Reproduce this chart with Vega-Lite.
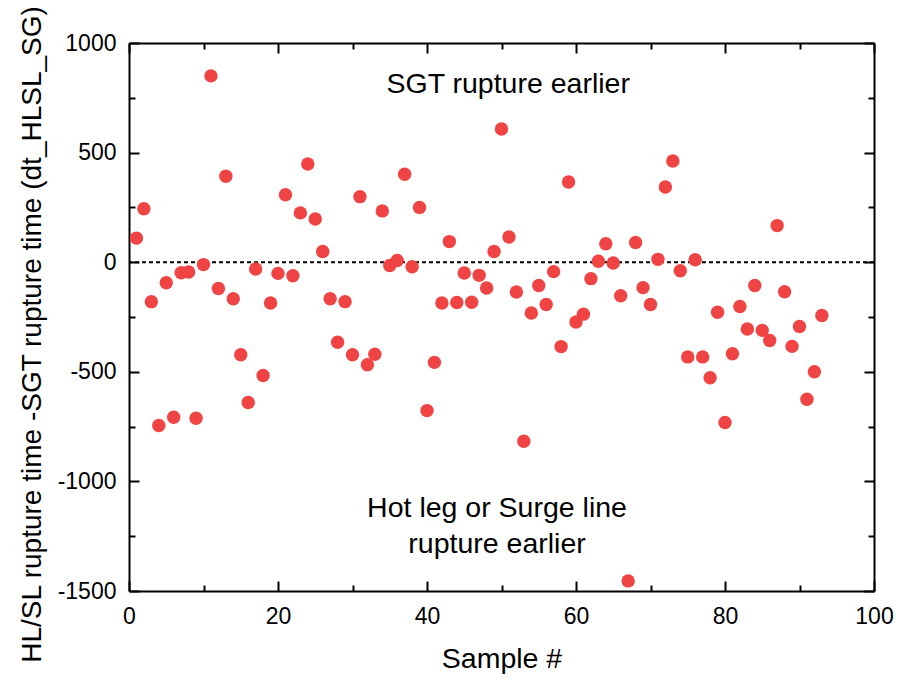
{
  "$schema": "https://vega.github.io/schema/vega-lite/v6.json",
  "autosize": {"type": "none"},
  "padding": {"left": 129, "top": 43, "right": 28, "bottom": 107},
  "width": 745,
  "height": 548,
  "background": "white",
  "config": {
    "view": {"stroke": null},
    "axis": {
      "domainColor": "black", "domainWidth": 2,
      "tickColor": "black", "tickWidth": 2,
      "labelFont": "Liberation Sans", "labelFontSize": 23, "labelColor": "black",
      "titleFont": "Liberation Sans", "titleFontSize": 28.5, "titleFontWeight": "normal", "titleColor": "black",
      "grid": false, "labelFlush": false, "labelOverlap": false
    }
  },
  "data": {"values": [
    {"sample":1,"dt":110},{"sample":2,"dt":244},{"sample":3,"dt":-180},{"sample":4,"dt":-745},{"sample":5,"dt":-94},
    {"sample":6,"dt":-707},{"sample":7,"dt":-48},{"sample":8,"dt":-45},{"sample":9,"dt":-712},{"sample":10,"dt":-11},
    {"sample":11,"dt":850},{"sample":12,"dt":-120},{"sample":13,"dt":392},{"sample":14,"dt":-167},{"sample":15,"dt":-422},
    {"sample":16,"dt":-640},{"sample":17,"dt":-31},{"sample":18,"dt":-517},{"sample":19,"dt":-186},{"sample":20,"dt":-51},
    {"sample":21,"dt":308},{"sample":22,"dt":-62},{"sample":23,"dt":225},{"sample":24,"dt":448},{"sample":25,"dt":197},
    {"sample":26,"dt":49},{"sample":27,"dt":-167},{"sample":28,"dt":-365},{"sample":29,"dt":-180},{"sample":30,"dt":-422},
    {"sample":31,"dt":299},{"sample":32,"dt":-468},{"sample":33,"dt":-420},{"sample":34,"dt":234},{"sample":35,"dt":-15},
    {"sample":36,"dt":8},{"sample":37,"dt":401},{"sample":38,"dt":-21},{"sample":39,"dt":250},{"sample":40,"dt":-677},
    {"sample":41,"dt":-457},{"sample":42,"dt":-186},{"sample":43,"dt":94},{"sample":44,"dt":-184},{"sample":45,"dt":-49},
    {"sample":46,"dt":-183},{"sample":47,"dt":-60},{"sample":48,"dt":-118},{"sample":49,"dt":49},{"sample":50,"dt":608},
    {"sample":51,"dt":115},{"sample":52,"dt":-136},{"sample":53,"dt":-817},{"sample":54,"dt":-232},{"sample":55,"dt":-106},
    {"sample":56,"dt":-193},{"sample":57,"dt":-43},{"sample":58,"dt":-385},{"sample":59,"dt":366},{"sample":60,"dt":-273},
    {"sample":61,"dt":-237},{"sample":62,"dt":-75},{"sample":63,"dt":4},{"sample":64,"dt":84},{"sample":65,"dt":-4},
    {"sample":66,"dt":-153},{"sample":67,"dt":-1454},{"sample":68,"dt":90},{"sample":69,"dt":-116},{"sample":70,"dt":-193},
    {"sample":71,"dt":13},{"sample":72,"dt":343},{"sample":73,"dt":462},{"sample":74,"dt":-39},{"sample":75,"dt":-432},
    {"sample":76,"dt":11},{"sample":77,"dt":-432},{"sample":78,"dt":-527},{"sample":79,"dt":-228},{"sample":80,"dt":-731},
    {"sample":81,"dt":-418},{"sample":82,"dt":-202},{"sample":83,"dt":-305},{"sample":84,"dt":-106},{"sample":85,"dt":-311},
    {"sample":86,"dt":-357},{"sample":87,"dt":167},{"sample":88,"dt":-135},{"sample":89,"dt":-384},{"sample":90,"dt":-293},
    {"sample":91,"dt":-625},{"sample":92,"dt":-500},{"sample":93,"dt":-243}
  ]},
  "resolve": {"axis": {"x": "independent", "y": "independent"}},
  "layer": [
    {
      "data": {"values": [{"v": 0}]},
      "mark": {"type": "rule", "strokeDash": [4, 3], "strokeWidth": 2, "color": "black"},
      "encoding": {
        "y": {"field": "v", "type": "quantitative", "scale": {"domain": [-1500, 1000], "nice": false, "zero": false}, "axis": null}
      }
    },
    {
      "mark": {"type": "circle", "size": 180, "color": "#F04343", "opacity": 1},
      "encoding": {
        "x": {
          "field": "sample", "type": "quantitative",
          "scale": {"domain": [0, 100], "nice": false, "zero": false},
          "axis": {
            "orient": "bottom",
            "values": [0,10,20,30,40,50,60,70,80,90,100],
            "labelExpr": "datum.value % 20 === 0 ? '' + datum.value : ''",
            "tickSize": {"condition": {"test": "datum.value % 20 === 0", "value": -10}, "value": -6},
            "labelPadding": 24,
            "title": "Sample #",
            "titleX": 372.5, "titleY": 76, "titleAlign": "center", "titleBaseline": "alphabetic"
          }
        },
        "y": {
          "field": "dt", "type": "quantitative",
          "scale": {"domain": [-1500, 1000], "nice": false, "zero": false},
          "axis": {
            "orient": "left",
            "values": [-1500,-1250,-1000,-750,-500,-250,0,250,500,750,1000],
            "labelExpr": "datum.value % 500 === 0 ? '' + datum.value : ''",
            "tickSize": {"condition": {"test": "datum.value % 500 === 0", "value": -10}, "value": -6},
            "labelPadding": 23,
            "title": "HL/SL rupture time -SGT rupture time (dt_HLSL_SG)",
            "titleFontSize": 28,
            "titleAngle": -90, "titleX": -89, "titleY": 291, "titleAlign": "center", "titleBaseline": "alphabetic"
          }
        }
      }
    },
    {
      "data": {"values": [{"label": "SGT rupture earlier", "px": 50.9, "py": 774}]},
      "mark": {"type": "text", "font": "Liberation Sans", "fontSize": 28.5, "align": "center", "baseline": "alphabetic", "color": "black"},
      "encoding": {
        "text": {"field": "label"},
        "x": {
          "field": "px", "type": "quantitative",
          "axis": {
            "orient": "top", "labels": false, "title": null,
            "values": [0,10,20,30,40,50,60,70,80,90,100],
            "tickSize": {"condition": {"test": "datum.value % 20 === 0", "value": -10}, "value": -6}
          }
        },
        "y": {
          "field": "py", "type": "quantitative",
          "axis": {
            "orient": "right", "labels": false, "title": null,
            "values": [-1500,-1250,-1000,-750,-500,-250,0,250,500,750,1000],
            "tickSize": {"condition": {"test": "datum.value % 500 === 0", "value": -10}, "value": -6}
          }
        }
      }
    },
    {
      "data": {"values": [{"px": 49.4, "py": -1162}]},
      "mark": {"type": "text", "text": ["Hot leg or Surge line", "rupture earlier"], "lineHeight": 36, "font": "Liberation Sans", "fontSize": 28.5, "align": "center", "baseline": "alphabetic", "color": "black"},
      "encoding": {
        "x": {"field": "px", "type": "quantitative", "axis": null},
        "y": {"field": "py", "type": "quantitative", "axis": null}
      }
    }
  ]
}
